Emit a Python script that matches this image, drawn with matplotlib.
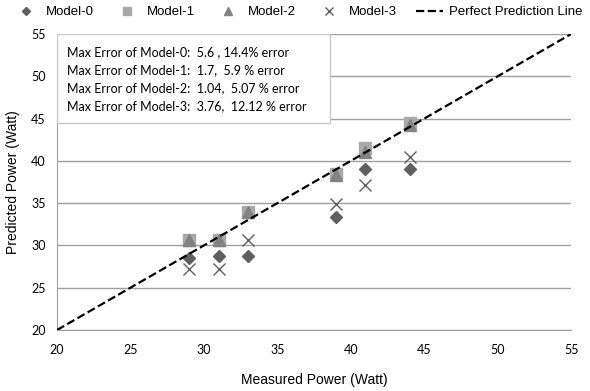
import matplotlib
matplotlib.use("Agg")
import matplotlib.pyplot as plt
from matplotlib.patches import Rectangle

measured = [29, 31, 33, 39, 41, 44]
model0 = [28.5, 28.7, 28.7, 33.4, 39.0, 39.0]
model1 = [30.7, 30.7, 33.9, 38.4, 41.5, 44.5]
model2 = [30.6, 30.6, 34.0, 38.3, 41.0, 44.3]
model3 = [27.2, 27.24, 30.7, 34.9, 37.1, 40.5]
perfect = [20, 55]

err_lines = [
    "Max Error of Model-0:  5.6 , 14.4% error",
    "Max Error of Model-1:  1.7,  5.9 % error",
    "Max Error of Model-2:  1.04,  5.07 % error",
    "Max Error of Model-3:  3.76,  12.12 % error",
]

plt.rcParams['font.family'] = ['Liberation Sans', 'DejaVu Sans']

fig = plt.figure(figsize=(5.9, 3.91), dpi=100)
ax = fig.add_axes([0.0966, 0.156, 0.8714, 0.757])

ax.plot(measured, model0, "D", color="#5f5f5f", ms=6, label="Model-0", zorder=3)
ax.plot(measured, model1, "s", color="#a9a9a9", ms=9, label="Model-1", zorder=3)
ax.plot(measured, model2, "^", color="#828282", ms=8, label="Model-2", zorder=4)
ax.plot(measured, model3, "x", color="#5f5f5f", ms=9, mew=1.0, label="Model-3", zorder=3)
ax.plot(perfect, perfect, "--", color="black", lw=1.6, label="Perfect Prediction Line", zorder=5)

ax.set_xlim(20, 55)
ax.set_ylim(20, 55)
ax.set_xticks(range(20, 56, 5))
ax.set_yticks(range(20, 56, 5))
ax.yaxis.grid(True, color="#a0a0a0", lw=1.0)
ax.set_axisbelow(True)
for s in ["top", "right"]:
    ax.spines[s].set_visible(False)
ax.spines["left"].set_color("#a0a0a0")
ax.spines["bottom"].set_color("#a0a0a0")
ax.tick_params(length=0, labelsize=9, pad=10)
ax.tick_params(axis="y", pad=8)
for lab in ax.get_xticklabels() + ax.get_yticklabels():
    lab.set_fontfamily("Lato")

ax.set_xlabel("Measured Power (Watt)", fontsize=10, labelpad=12)
ax.set_ylabel("Predicted Power (Watt)", fontsize=10, labelpad=8)

# error summary box
ax.add_patch(Rectangle((0.0, 0.70), 0.531, 0.30, transform=ax.transAxes,
                       fc="white", ec="#c8c8c8", lw=1.0, zorder=6))
ax.text(0.02, 0.96, "\n".join(err_lines), transform=ax.transAxes, fontsize=9,
        family="Lato", va="top", ha="left", linespacing=1.6, zorder=7)

fig.legend(loc="upper center", bbox_to_anchor=(0.505, 1.015), ncol=5, frameon=False,
           fontsize=9.5, handlelength=2.0, columnspacing=1.5, handletextpad=0.5,
           markerscale=0.7)

fig.savefig("out.png", dpi=100)
